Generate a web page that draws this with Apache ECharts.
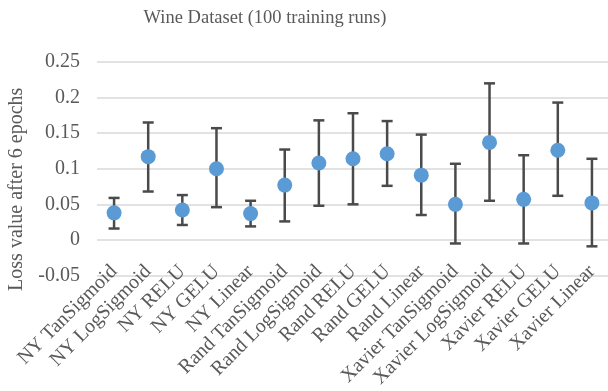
<!DOCTYPE html>
<html>
<head>
<meta charset="utf-8">
<script src="https://cdn.jsdelivr.net/npm/echarts@6/dist/echarts.min.js"></script>
<style>
  html, body { margin: 0; padding: 0; background: #fff; }
  #chart { width: 608px; height: 391px; }
</style>
</head>
<body>
<div id="chart"></div>
<script>
// Mean loss per configuration with the extent of its error bar
const categories = [
  'NY TanSigmoid', 'NY LogSigmoid', 'NY RELU', 'NY GELU', 'NY Linear',
  'Rand TanSigmoid', 'Rand LogSigmoid', 'Rand RELU', 'Rand GELU', 'Rand Linear',
  'Xavier TanSigmoid', 'Xavier LogSigmoid', 'Xavier RELU', 'Xavier GELU', 'Xavier Linear'
];
const meanLoss = [0.038, 0.117, 0.042, 0.100, 0.037, 0.077, 0.108, 0.114, 0.121, 0.091, 0.050, 0.137, 0.057, 0.126, 0.052];
const lowerLoss = [0.016, 0.068, 0.021, 0.046, 0.019, 0.026, 0.048, 0.050, 0.076, 0.035, -0.005, 0.055, -0.005, 0.062, -0.009];
const upperLoss = [0.059, 0.165, 0.063, 0.157, 0.055, 0.127, 0.168, 0.178, 0.167, 0.148, 0.107, 0.220, 0.119, 0.193, 0.114];
const yTicks = { min: -0.05, max: 0.25, step: 0.05 };

const FONT = '"Liberation Serif", "Times New Roman", serif';
const TEXT = '#595959';

const chart = echarts.init(document.getElementById('chart'), null, { renderer: 'canvas' });

const errorData = categories.map((c, i) => [i, lowerLoss[i], upperLoss[i]]);

function renderErrorBar(params, api) {
  const x = api.value(0);
  const lo = api.coord([x, api.value(1)]);
  const hi = api.coord([x, api.value(2)]);
  const half = 5.5;
  const style = { stroke: '#4a4a4a', lineWidth: 2.5, fill: null };
  return {
    type: 'group',
    children: [
      { type: 'line', shape: { x1: hi[0], y1: hi[1], x2: lo[0], y2: lo[1] }, style },
      { type: 'line', shape: { x1: hi[0] - half, y1: hi[1], x2: hi[0] + half, y2: hi[1] }, style },
      { type: 'line', shape: { x1: lo[0] - half, y1: lo[1], x2: lo[0] + half, y2: lo[1] }, style }
    ]
  };
}

chart.setOption({
  animation: false,
  backgroundColor: '#ffffff',
  title: {
    text: 'Wine Dataset (100 training runs)',
    left: 260,
    textAlign: 'center',
    top: 4,
    textStyle: { fontFamily: FONT, fontSize: 18.5, fontWeight: 'normal', color: TEXT }
  },
  grid: { left: 97, right: -1, top: 62, bottom: 115.5, outerBoundsMode: 'none', containLabel: false },
  xAxis: {
    type: 'category',
    data: categories,
    boundaryGap: true,
    // the zero line comes from the value axis grid; category labels sit just under it
    axisLine: { show: false },
    axisTick: { show: false },
    axisLabel: {
      rotate: 45,
      interval: 0,
      margin: -7,
      fontFamily: FONT,
      fontSize: 20,
      color: TEXT
    },
    splitLine: { show: false }
  },
  yAxis: {
    type: 'value',
    min: yTicks.min,
    max: yTicks.max,
    interval: yTicks.step,
    name: 'Loss value after 6 epochs',
    nameLocation: 'middle',
    nameGap: 70,
    nameRotate: 90,
    nameTextStyle: { fontFamily: FONT, fontSize: 20, color: TEXT, padding: [0, 41, 0, 0] },
    axisLine: { show: false },
    axisTick: { show: false },
    axisLabel: {
      margin: 17,
      fontFamily: FONT,
      fontSize: 20,
      color: TEXT,
      formatter: v => String(Math.round(v * 100) / 100)
    },
    splitLine: { lineStyle: { color: '#d9d9d9', width: 1.5 } }
  },
  series: [
    {
      type: 'custom',
      data: errorData,
      renderItem: renderErrorBar,
      encode: { x: 0, y: [1, 2] },
      z: 2,
      silent: true
    },
    {
      type: 'scatter',
      data: meanLoss,
      symbol: 'circle',
      symbolSize: 15,
      itemStyle: { color: '#5b9bd5', opacity: 1 },
      z: 3,
      silent: true
    }
  ]
});
</script>
</body>
</html>
